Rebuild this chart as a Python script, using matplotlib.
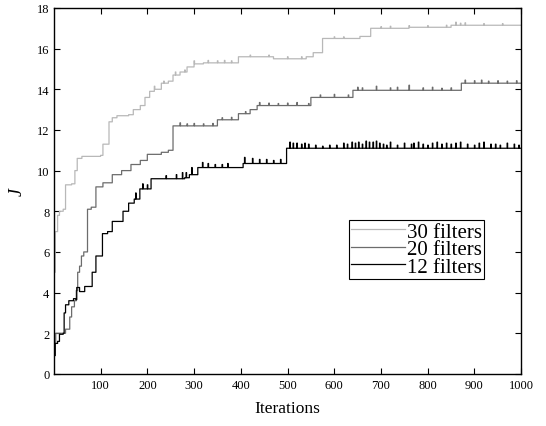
import numpy as np
import matplotlib
matplotlib.use('Agg')
import matplotlib.pyplot as plt

plt.rcParams['font.family'] = ['Liberation Serif', 'DejaVu Serif']

n_iter = 1000
labels = ['30 filters', '20 filters', '12 filters']
colors = ['#b8b8b8', '#6c6c6c', '#000000']

# step levels: (iteration where level starts, J)
steps_30 = [(1, 5.0), (3, 7.0), (8, 7.8), (12, 8.0), (20, 8.1), (25, 9.3), (38, 9.35),
            (45, 10.0), (50, 10.6), (60, 10.7), (100, 10.75), (105, 11.3), (118, 12.4),
            (125, 12.6), (135, 12.7), (160, 12.75), (170, 13.0), (185, 13.2), (195, 13.6),
            (205, 13.9), (215, 14.0), (230, 14.3), (245, 14.4), (255, 14.7), (270, 14.85),
            (285, 15.1), (300, 15.25), (320, 15.3), (395, 15.6), (470, 15.5), (540, 15.6),
            (555, 15.8), (575, 16.5), (655, 16.6), (678, 17.0), (760, 17.05), (850, 17.15)]
steps_20 = [(1, 1.5), (4, 2.0), (25, 2.2), (34, 2.8), (38, 3.3), (44, 3.6), (48, 4.1),
            (51, 5.0), (55, 5.3), (59, 5.8), (64, 6.0), (72, 8.1), (80, 8.2), (90, 9.2),
            (105, 9.4), (125, 9.8), (145, 10.0), (165, 10.3), (185, 10.5), (200, 10.8),
            (230, 10.9), (245, 11.0), (255, 12.2), (350, 12.5), (395, 12.8), (420, 13.0),
            (435, 13.2), (550, 13.6), (640, 13.95), (872, 14.3)]
steps_12 = [(1, 0.9), (3, 1.5), (8, 1.6), (12, 1.95), (20, 2.0), (22, 3.0), (25, 3.4),
            (32, 3.6), (42, 3.7), (47, 3.65), (49, 4.25), (55, 4.05), (66, 4.3), (82, 5.0),
            (90, 5.8), (104, 6.9), (115, 7.0), (125, 7.5), (148, 8.0), (160, 8.4),
            (172, 8.6), (184, 9.1), (208, 9.6), (280, 9.65), (290, 9.8), (308, 10.15),
            (405, 10.35), (498, 11.1)]

# single-iteration spikes: (iteration, height above level)
spikes_30 = [(215, 0.15), (235, 0.1), (260, 0.15), (280, 0.1), (300, 0.15), (330, 0.12),
             (350, 0.1), (365, 0.12), (380, 0.1), (420, 0.08), (460, 0.08), (500, 0.1),
             (530, 0.1), (600, 0.08), (620, 0.08), (700, 0.08), (720, 0.1), (760, 0.08),
             (800, 0.08), (840, 0.1), (860, 0.15), (870, 0.1), (880, 0.12), (920, 0.08),
             (960, 0.08)]
spikes_20 = [(270, 0.15), (285, 0.1), (300, 0.12), (320, 0.1), (340, 0.12), (360, 0.1),
             (380, 0.12), (410, 0.1), (440, 0.15), (460, 0.12), (480, 0.1), (500, 0.12),
             (520, 0.15), (545, 0.1), (570, 0.12), (600, 0.15), (630, 0.12), (650, 0.15),
             (660, 0.12), (690, 0.2), (720, 0.12), (735, 0.15), (760, 0.25), (790, 0.12),
             (810, 0.15), (830, 0.1), (850, 0.12), (880, 0.15), (900, 0.12), (915, 0.15),
             (930, 0.1), (950, 0.12), (970, 0.1), (990, 0.12)]
spikes_12 = [(175, 0.3), (190, 0.25), (200, 0.2), (240, 0.15), (262, 0.2), (275, 0.3),
             (283, 0.25), (295, 0.35), (318, 0.25), (330, 0.2), (345, 0.15), (360, 0.15),
             (372, 0.2), (408, 0.3), (425, 0.25), (440, 0.2), (455, 0.2), (470, 0.15),
             (485, 0.2), (505, 0.3), (512, 0.25), (520, 0.25), (530, 0.2), (537, 0.25),
             (545, 0.2), (560, 0.15), (575, 0.1), (590, 0.15), (605, 0.15), (620, 0.25),
             (628, 0.2), (638, 0.3), (645, 0.25), (652, 0.3), (660, 0.2), (668, 0.35),
             (675, 0.3), (683, 0.3), (690, 0.35), (697, 0.25), (705, 0.2), (712, 0.15),
             (720, 0.3), (735, 0.15), (750, 0.25), (765, 0.2), (770, 0.25), (780, 0.3),
             (790, 0.2), (800, 0.15), (810, 0.25), (820, 0.3), (830, 0.2), (840, 0.25),
             (850, 0.2), (860, 0.25), (870, 0.3), (885, 0.2), (900, 0.15), (910, 0.25),
             (920, 0.3), (935, 0.2), (945, 0.2), (955, 0.15), (970, 0.25), (985, 0.2),
             (995, 0.15)]


def build(steps, spikes):
    it = np.arange(1, n_iter + 1)
    starts = np.array([s[0] for s in steps])
    vals = np.array([s[1] for s in steps])
    y = vals[np.searchsorted(starts, it, side='right') - 1].astype(float)
    for i, h in spikes:
        y[i - 1] += h
    return it, y


fig = plt.figure(figsize=(5.46, 4.27), dpi=100)
ax = fig.add_axes([0.0995, 0.122, 0.855, 0.857])

for st, sp, c, lab in zip([steps_30, steps_20, steps_12],
                          [spikes_30, spikes_20, spikes_12], colors, labels):
    x, y = build(st, sp)
    ax.plot(x, y, color=c, lw=0.9, drawstyle='steps-post', label=lab)

ax.set_xlim(1, 1000)
ax.set_ylim(0, 18)
ax.set_xticks(range(100, 1001, 100))
ax.set_yticks(range(0, 19, 2))
ax.tick_params(direction='in', top=True, right=True, labelsize=9, length=4, width=0.8)
for s in ax.spines.values():
    s.set_linewidth(1.0)
ax.set_xlabel('Iterations', fontsize=12.5, labelpad=7)
ax.set_ylabel('J', fontsize=13, fontstyle='italic', labelpad=8)

leg = ax.legend(loc='lower left', bbox_to_anchor=(0.631, 0.26), borderaxespad=0,
                fontsize=15, handlelength=2.6, handletextpad=0.08, labelspacing=-0.1,
                borderpad=0.1, fancybox=False, framealpha=1, edgecolor='black')
leg.get_frame().set_linewidth(0.8)

fig.savefig('out.png', dpi=100)
